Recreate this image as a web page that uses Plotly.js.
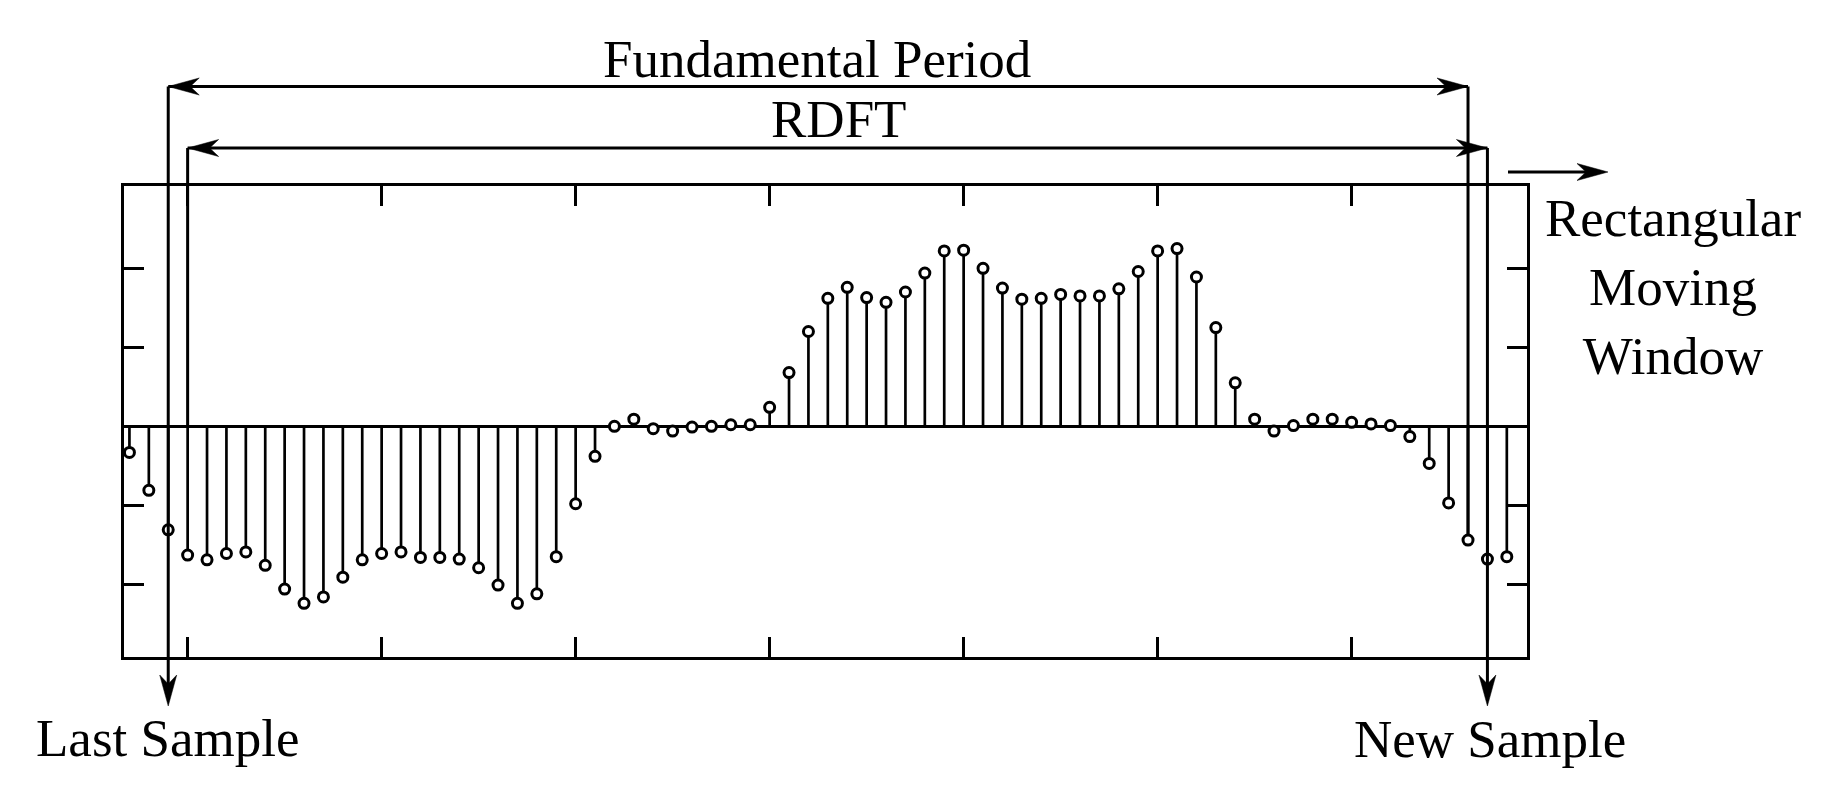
<!DOCTYPE html>
<html><head><meta charset="utf-8">
<script src="https://cdn.plot.ly/plotly-3.0.1.min.js"></script>
<style>html,body{margin:0;padding:0;background:#fff;}#chart{width:1827px;height:789px;}</style>
</head><body><div id="chart"></div>
<script>
// ---- data ----
const sampleIndex = [-3,-2,-1,0,1,2,3,4,5,6,7,8,9,10,11,12,13,14,15,16,17,18,19,20,21,22,23,24,25,26,27,28,29,30,31,32,33,34,35,36,37,38,39,40,41,42,43,44,45,46,47,48,49,50,51,52,53,54,55,56,57,58,59,60,61,62,63,64,65,66,67,68];
const sampleValue = [-0.33,-0.81,-1.31,-1.63,-1.69,-1.61,-1.59,-1.76,-2.06,-2.24,-2.16,-1.91,-1.69,-1.61,-1.59,-1.66,-1.66,-1.68,-1.79,-2.01,-2.24,-2.12,-1.65,-0.98,-0.38,
  0.00,0.09,-0.03,-0.06,-0.01,0.00,0.02,0.02,0.24,0.68,1.20,1.62,1.76,1.63,1.57,1.70,1.94,2.22,2.23,2.00,1.75,1.61,1.62,1.67,1.65,1.65,1.74,1.96,2.22,2.25,1.89,1.25,0.55,0.09,
  -0.06,0.01,0.09,0.09,0.05,0.03,0.01,-0.13,-0.47,-0.97,-1.44,-1.68,-1.65];
const xTickVals = [0,10,20,30,40,50,60];
const yTickVals = [-2,-1,0,1,2];
const lastSampleIdx = -1, rdftStartIdx = 0, periodEndIdx = 66, newSampleIdx = 67;
const labelPeriod = 'Fundamental Period';
const labelRdft = 'RDFT';
const labelWindow = 'Rectangular<br>Moving<br>Window';
const labelLast = 'Last Sample';
const labelNew = 'New Sample';

// ---- geometry ----
const W = 1827, H = 789;
const M = {l:124, r:300, t:186, b:132};
const PW = W - M.l - M.r, PH = H - M.t - M.b;
const xRange = [-3.28, 69.04];
const yRange = [-2.92, 3.042];
const kx = k => (k - xRange[0]) / (xRange[1] - xRange[0]);
const vy = v => (v - yRange[0]) / (yRange[1] - yRange[0]);
const px2x = px => (px - M.l) / PW;
const py2y = py => (H - M.b - py) / PH;
const x2px = k => M.l + kx(k) * PW;
const v2py = v => H - M.b - vy(v) * PH;

const periodY = 86.5, rdftY = 148, moveY = 172, tipY = 706;
const LW = 3;
const HL = 31, HW = 8.5, HN = 22;

function headPath(tx, ty, dir) {
  let pts;
  if (dir === 'right') pts = [[tx,ty],[tx-HL,ty-HW],[tx-HN,ty],[tx-HL,ty+HW]];
  else if (dir === 'left') pts = [[tx,ty],[tx+HL,ty-HW],[tx+HN,ty],[tx+HL,ty+HW]];
  else pts = [[tx,ty],[tx-HW,ty-HL],[tx,ty-HN],[tx+HW,ty-HL]];
  return 'M' + pts.map(p => px2x(p[0]) + ',' + py2y(p[1])).join(' L') + ' Z';
}
function head(tx, ty, dir) {
  return {type:'path', xref:'paper', yref:'paper', path: headPath(tx, ty, dir),
          fillcolor:'black', line:{color:'black', width:0.5}, layer:'above'};
}
function seg(x0, y0, x1, y1) {
  return {type:'line', xref:'paper', yref:'paper', x0:px2x(x0), y0:py2y(y0), x1:px2x(x1), y1:py2y(y1),
          line:{color:'black', width:LW}, layer:'above'};
}

const xL = x2px(lastSampleIdx), xR0 = x2px(rdftStartIdx), xPE = x2px(periodEndIdx), xN = x2px(newSampleIdx);
const vPE = sampleValue[sampleIndex.indexOf(periodEndIdx)];

const shapes = [
  seg(xL, periodY, xPE, periodY), head(xL, periodY, 'left'), head(xPE, periodY, 'right'),
  seg(xR0, rdftY, xN, rdftY), head(xR0, rdftY, 'left'), head(xN, rdftY, 'right'),
  seg(xL, periodY, xL, tipY - HN + 2), head(xL, tipY, 'down'),
  seg(xN, rdftY, xN, tipY - HN + 2), head(xN, tipY, 'down'),
  seg(xR0, rdftY, xR0, v2py(0)),
  seg(xPE, periodY, xPE, v2py(vPE) - 6),
  seg(1508, moveY, 1608 - HN + 2, moveY), head(1608, moveY, 'right')
];

const font = {family:'"Liberation Serif", "Times New Roman", serif', size:53, color:'black'};
function label(text, px, py) {
  return {text, xref:'paper', yref:'paper', x:px2x(px), y:py2y(py), xanchor:'center', yanchor:'middle',
          showarrow:false, font};
}
const annotations = [
  label(labelPeriod, 817, 59),
  label(labelRdft, 838, 119),
  label(labelWindow, 1673, 287),
  label(labelLast, 167.5, 738),
  label(labelNew, 1489.5, 738.5)
];

// stems
const stemX = [], stemY = [];
sampleIndex.forEach((k, i) => { stemX.push(k, k, null); stemY.push(0, sampleValue[i], null); });

const traces = [
  {x: stemX, y: stemY, mode:'lines', line:{color:'black', width:2.7}, hoverinfo:'skip', showlegend:false},
  {x: sampleIndex, y: sampleValue, mode:'markers', showlegend:false,
   marker:{symbol:'circle', size:10, color:'white', line:{color:'black', width:3}}}
];

const axisCommon = {ticks:'inside', ticklen:20, tickwidth:3, tickcolor:'black', showticklabels:false,
  showline:true, linewidth:3.2, linecolor:'black', mirror:'ticks', showgrid:false, fixedrange:true};

const layout = {
  width: W, height: H, margin: M,
  paper_bgcolor:'white', plot_bgcolor:'rgba(0,0,0,0)',
  xaxis: Object.assign({range:xRange, tickmode:'array', tickvals:xTickVals, zeroline:false}, axisCommon),
  yaxis: Object.assign({range:yRange, tickmode:'array', tickvals:yTickVals, zeroline:true, zerolinewidth:3, zerolinecolor:'black'}, axisCommon),
  shapes, annotations, showlegend:false
};

Plotly.newPlot('chart', traces, layout, {displayModeBar:false, staticPlot:true});
</script>
</body></html>
